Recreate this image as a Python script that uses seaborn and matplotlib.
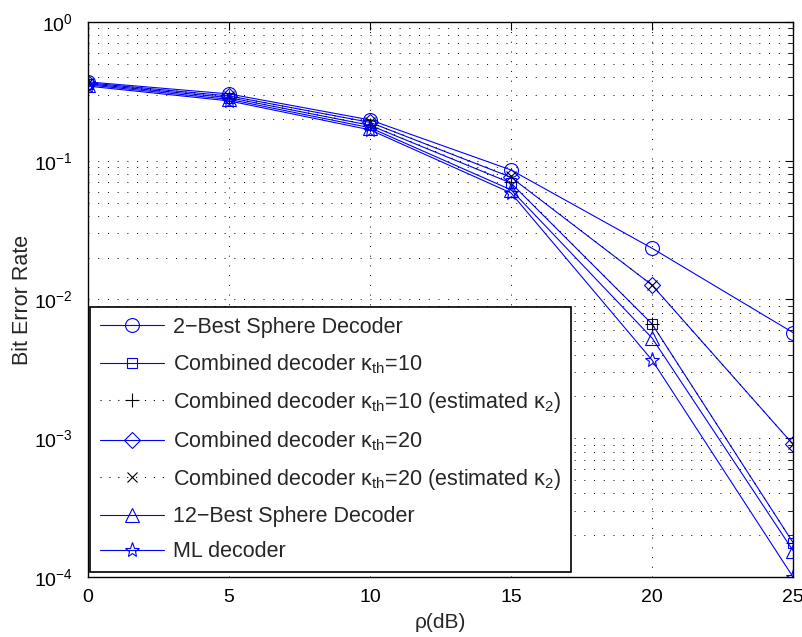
import numpy as np
import pandas as pd
import matplotlib
matplotlib.use("Agg")
import matplotlib.pyplot as plt
import seaborn as sns
from matplotlib.ticker import LogLocator, NullFormatter, NullLocator

sns.set_style("white")
plt.rcParams['font.family'] = ['Liberation Sans', 'DejaVu Sans']
plt.rcParams['mathtext.fontset'] = 'custom'
plt.rcParams['mathtext.rm'] = 'Liberation Sans'
plt.rcParams['mathtext.it'] = 'Liberation Sans:italic'

snr = [0, 5, 10, 15, 20, 25]
ber_2best = [0.370, 0.303, 0.197, 0.0858, 0.0234, 0.00577]
ber_comb10 = [0.358, 0.285, 0.180, 0.0690, 0.00666, 0.000177]
ber_comb10_est = [0.358, 0.285, 0.181, 0.0700, 0.00666, 0.000177]
ber_comb20 = [0.364, 0.293, 0.189, 0.0760, 0.0127, 0.000904]
ber_comb20_est = [0.364, 0.293, 0.189, 0.0770, 0.0127, 0.000904]
ber_12best = [0.352, 0.277, 0.173, 0.0617, 0.00528, 0.000155]
ber_ml = [0.345, 0.270, 0.167, 0.0586, 0.00366, 0.000100]

labels = [
    "2\u2212Best Sphere Decoder",
    "Combined decoder $\\mathregular{\u03ba_{th}}$=10",
    "Combined decoder $\\mathregular{\u03ba_{th}}$=10 (estimated $\\mathregular{\u03ba_2}$)",
    "Combined decoder $\\mathregular{\u03ba_{th}}$=20",
    "Combined decoder $\\mathregular{\u03ba_{th}}$=20 (estimated $\\mathregular{\u03ba_2}$)",
    "12\u2212Best Sphere Decoder",
    "ML decoder",
]
series = [ber_2best, ber_comb10, ber_comb10_est, ber_comb20, ber_comb20_est, ber_12best, ber_ml]
dotted = (0, (1, 7))
styles = [
    dict(color='blue', marker='o', linestyle='-', ms=10),
    dict(color='blue', marker='s', linestyle='-', ms=7.5),
    dict(color='black', marker='+', linestyle=dotted, ms=10),
    dict(color='blue', marker='D', linestyle='-', ms=8),
    dict(color='black', marker='x', linestyle=dotted, ms=7),
    dict(color='blue', marker='^', linestyle='-', ms=10),
    dict(color='blue', marker='*', linestyle='-', ms=11),
]

fig = plt.figure(figsize=(8.03, 6.37), dpi=100)
ax = fig.add_axes([0.1096, 0.0942, 0.878, 0.8713])

for lab, vals, st in zip(labels, series, styles):
    df = pd.DataFrame({"snr": snr, "ber": vals})
    filled = st['marker'] in ('+', 'x')
    sns.lineplot(data=df, x="snr", y="ber", ax=ax, label=lab,
                 color=st['color'], linestyle=st['linestyle'], linewidth=0.8,
                 marker=st['marker'], markersize=st['ms'],
                 markerfacecolor='none' if not filled else st['color'],
                 markeredgecolor=st['color'], markeredgewidth=0.8)

ax.set_yscale('log')
ax.set_xlim(0, 25)
ax.set_ylim(1e-4, 1)
ax.set_xticks([0, 5, 10, 15, 20, 25])
ax.xaxis.set_minor_locator(NullLocator())
ax.yaxis.set_major_locator(LogLocator(base=10, numticks=10))
ax.yaxis.set_minor_locator(LogLocator(base=10, subs=np.arange(2, 10), numticks=20))
ax.yaxis.set_minor_formatter(NullFormatter())
grid_ls = (0, (1, 9))
ax.grid(True, which='major', axis='both', color='black', linestyle=grid_ls, linewidth=0.7)
ax.grid(True, which='minor', axis='y', color='black', linestyle=grid_ls, linewidth=0.7)
ax.tick_params(which='both', direction='in', top=True, right=True, labelsize=14, colors='black')
ax.tick_params(which='major', length=6)
ax.tick_params(which='minor', length=3.5)
ax.tick_params(axis='x', which='major', pad=9)
ax.tick_params(axis='y', which='major', pad=11)
for s in ax.spines.values():
    s.set_color('black')
    s.set_linewidth(1.0)
ax.set_xlabel("\u03c1(dB)", fontsize=15, labelpad=5)
ax.set_ylabel("Bit Error Rate", fontsize=15.5, labelpad=0.5)

leg = ax.legend(loc='lower left', bbox_to_anchor=(0.003, 0.009), borderaxespad=0,
                fontsize=15.5, handlelength=3.0, handletextpad=0.4,
                labelspacing=0.66, borderpad=0.45,
                fancybox=False, framealpha=1, edgecolor='black')
leg.get_frame().set_linewidth(1.2)

fig.savefig("out.png", dpi=100)
